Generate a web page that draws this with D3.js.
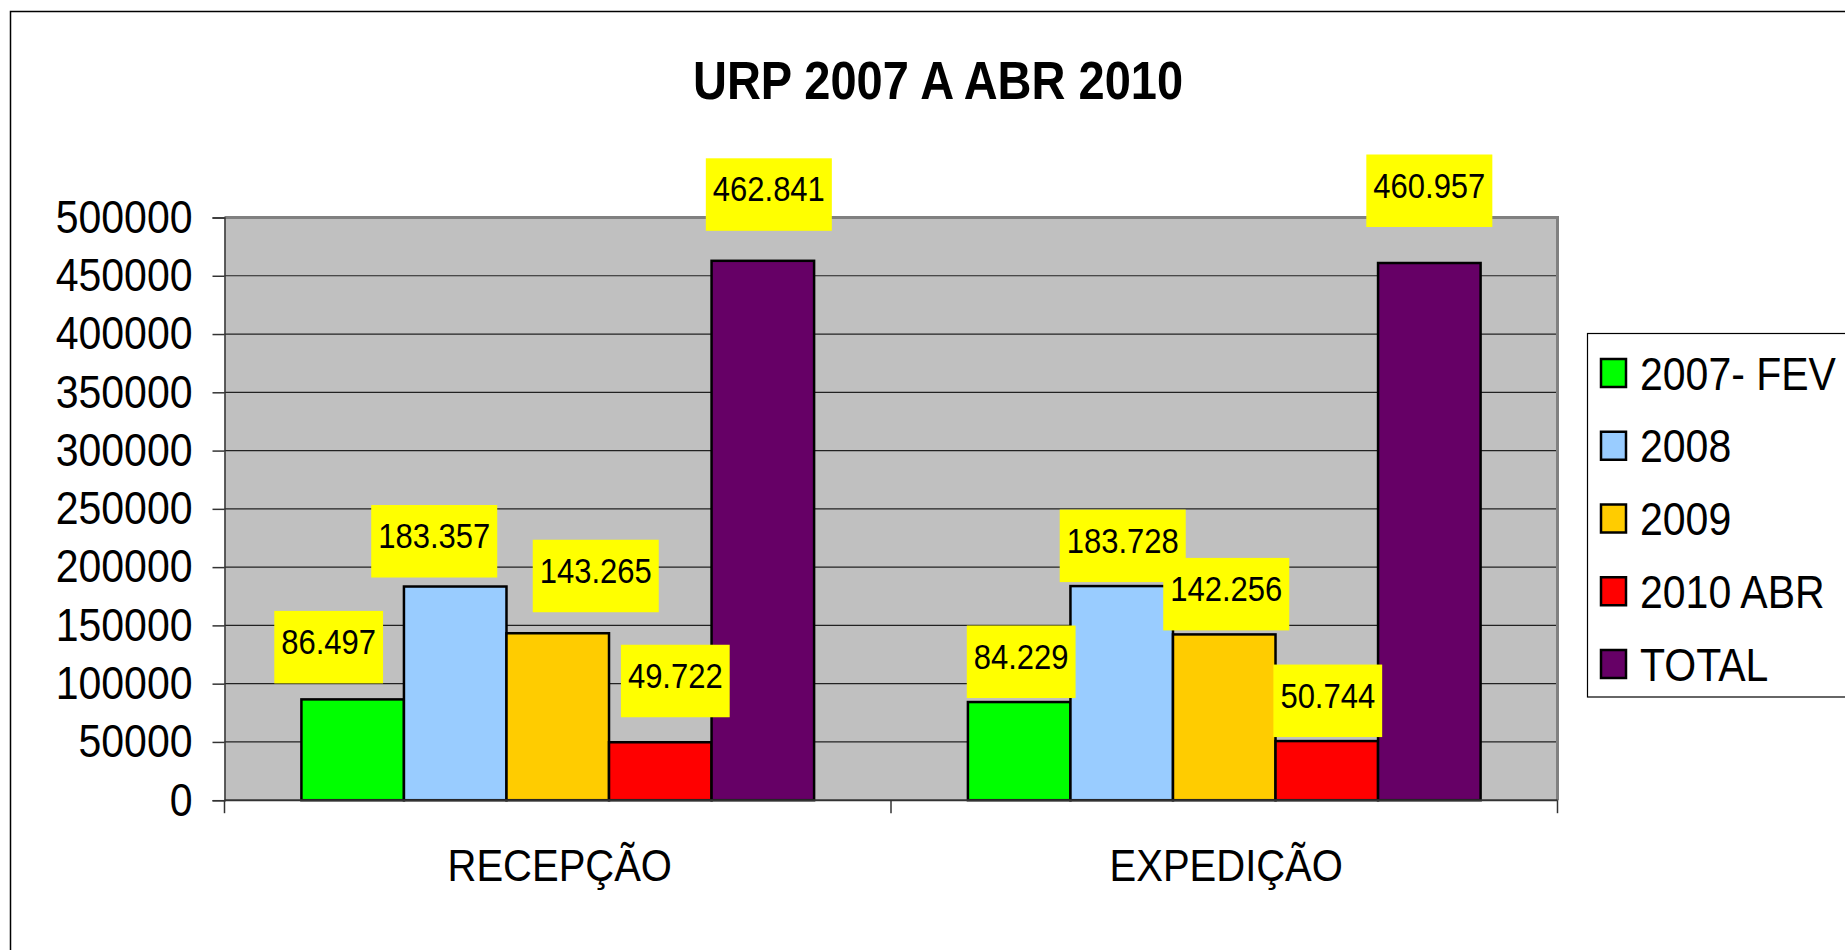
<!DOCTYPE html>
<html>
<head>
<meta charset="utf-8">
<script src="https://cdn.jsdelivr.net/npm/d3@7"></script>
<style>
  html, body { margin: 0; padding: 0; background: #fff; overflow: hidden; }
  text { font-family: "Liberation Sans", Arial, sans-serif; fill: #000; }
</style>
</head>
<body>
<div id="chart"></div>
<script>
// chart data
var categories = ["RECEPÇÃO", "EXPEDIÇÃO"];
var seriesNames = ["2007- FEV", "2008", "2009", "2010 ABR", "TOTAL"];
var recepcao = [86497, 183357, 143265, 49722, 462841];
var expedicao = [84229, 183728, 142256, 50744, 460957];
var yTicks = [0, 50000, 100000, 150000, 200000, 250000, 300000, 350000, 400000, 450000, 500000];

// styling
var seriesColors = ["#00ff00", "#99ccff", "#ffcc00", "#ff0000", "#660066"];
// the labels were dragged by hand in the original (dx, dy from the default spot)
var labelNudge = [
    [[-24, -12], [-21, -5], [38, -17], [15, -21], [6, -26]],
    [[2, 0], [1, 0], [2, 0], [1, 0], [0, -32]]
];

var chartW = 1845, chartH = 950,
    plotLeft = 224.5, plotRight = 1557.5, plotTop = 217.5, plotBottom = 800.2,
    stretch = "scale(1,1.13)";

var svg = d3.select("#chart").append("svg")
    .attr("width", chartW)
    .attr("height", chartH);

// outer frame
svg.append("rect")
    .attr("x", 10.5).attr("y", 11.5)
    .attr("width", 2000).attr("height", 2000)
    .attr("fill", "#fff").attr("stroke", "#000").attr("stroke-width", 1.5);

var table = categories.map(function(c, i) {
    var vals = i == 0 ? recepcao : expedicao;
    return { name: c, values: seriesNames.map(function(s, j) {
        return { series: s, value: vals[j], idx: j, nudge: labelNudge[i][j] };
    })};
});

var x0 = d3.scaleBand().domain(categories).range([plotLeft, plotRight]).padding(0);
var x1 = d3.scaleBand().domain(seriesNames).range([0, x0.bandwidth()])
    .paddingInner(0).paddingOuter(0.75);
var y = d3.scaleLinear().domain([0, 500000]).range([plotBottom, plotTop]);
var color = d3.scaleOrdinal().domain(seriesNames).range(seriesColors);
var fmt = d3.formatLocale({decimal: ",", thousands: ".", grouping: [3], currency: ["", ""]}).format(",");

function stretchedText(g, x, yy, txt, size, anchor, weight) {
    return g.append("text")
        .attr("transform", "translate(" + x + "," + yy + ") " + stretch)
        .attr("font-size", size)
        .attr("font-weight", weight || "normal")
        .attr("text-anchor", anchor)
        .text(txt);
}

// title
stretchedText(svg, 938, 98.5, "URP 2007 A ABR 2010", "47px", "middle", "bold");

// plot area
svg.append("rect")
    .attr("x", plotLeft).attr("y", plotTop)
    .attr("width", plotRight - plotLeft).attr("height", plotBottom - plotTop)
    .attr("fill", "#c0c0c0");

svg.append("g").selectAll("line").data(yTicks.slice(1)).enter()
    .append("line")
    .attr("x1", plotLeft).attr("x2", plotRight)
    .attr("y1", function(d) { return y(d); })
    .attr("y2", function(d) { return y(d); })
    .attr("stroke", "#222").attr("stroke-width", 1.2);

// plot border top/right
svg.append("path")
    .attr("d", "M" + plotLeft + "," + plotTop + "H" + plotRight + "V" + plotBottom)
    .attr("fill", "none").attr("stroke", "#808080").attr("stroke-width", 3);

// y axis
var yAxis = svg.append("g")
    .attr("transform", "translate(" + plotLeft + ",0)")
    .call(d3.axisLeft(y).tickValues(yTicks).tickSize(12).tickPadding(20).tickFormat(d3.format("d")));
yAxis.select(".domain").attr("stroke", "#333").attr("stroke-width", 1.5);
yAxis.selectAll(".tick line").attr("stroke", "#333").attr("stroke-width", 1.5);
yAxis.selectAll(".tick text")
    .attr("font-size", "41px")
    .attr("font-family", "Liberation Sans, Arial, sans-serif")
    .attr("fill", "#000")
    .attr("transform", stretch);

// bars
var groups = svg.append("g").selectAll("g").data(table).enter()
    .append("g")
    .attr("transform", function(d) { return "translate(" + x0(d.name) + ",0)"; });

groups.selectAll("rect").data(function(d) { return d.values; }).enter()
    .append("rect")
    .attr("x", function(d) { return x1(d.series); })
    .attr("y", function(d) { return y(d.value); })
    .attr("width", x1.bandwidth())
    .attr("height", function(d) { return y(0) - y(d.value); })
    .attr("fill", function(d) { return color(d.series); })
    .attr("stroke", "#000")
    .attr("stroke-width", 2.5);

// x axis
svg.append("line")
    .attr("x1", plotLeft).attr("x2", plotRight)
    .attr("y1", plotBottom).attr("y2", plotBottom)
    .attr("stroke", "#333").attr("stroke-width", 2);
var bounds = [plotLeft].concat(categories.map(function(c) { return x0(c) + x0.bandwidth(); }));
svg.append("g").selectAll("line").data(bounds).enter()
    .append("line")
    .attr("x1", function(d) { return d; }).attr("x2", function(d) { return d; })
    .attr("y1", plotBottom).attr("y2", plotBottom + 13)
    .attr("stroke", "#333").attr("stroke-width", 1.5);

categories.forEach(function(c) {
    stretchedText(svg, x0(c) + x0.bandwidth() / 2 + 2, 880.5, c, "40px", "middle");
});

// data labels
groups.each(function(cat) {
    var g = d3.select(this);
    cat.values.forEach(function(d) {
        var cx = x1(d.series) + x1.bandwidth() / 2 + d.nudge[0];
        var boxBottom = y(d.value) - 4 + d.nudge[1];
        var lbl = g.append("g");
        var box = lbl.append("rect").attr("fill", "#ffff00");
        var t = stretchedText(lbl, cx, boxBottom - 72.5 + 43, fmt(d.value), "31px", "middle");
        var w = t.node().getComputedTextLength() + 14;
        box.attr("x", cx - w / 2).attr("y", boxBottom - 72.5)
            .attr("width", w).attr("height", 72.5);
    });
});

// legend
var legend = svg.append("g");
legend.append("rect")
    .attr("x", 1587.5).attr("y", 333.5)
    .attr("width", 400).attr("height", 363.5)
    .attr("fill", "#fff").attr("stroke", "#000").attr("stroke-width", 1.2);

var legendY = d3.scalePoint().domain(seriesNames).range([373, 664]);
seriesNames.forEach(function(s) {
    legend.append("rect")
        .attr("x", 1601).attr("y", legendY(s) - 14)
        .attr("width", 25).attr("height", 28)
        .attr("fill", color(s))
        .attr("stroke", "#000").attr("stroke-width", 2.5);
    stretchedText(legend, 1640, legendY(s) + 16.5, s, "41px", "start");
});
</script>
</body>
</html>
